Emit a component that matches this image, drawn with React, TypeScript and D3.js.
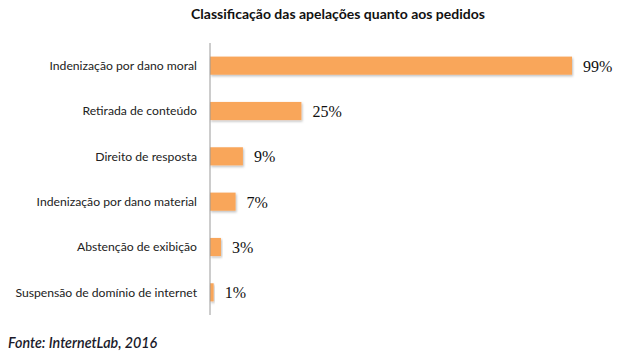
import React from "react";
import * as d3 from "d3";

const categories = [
  "Indenização por dano moral",
  "Retirada de conteúdo",
  "Direito de resposta",
  "Indenização por dano material",
  "Abstenção de exibição",
  "Suspensão de domínio de internet",
];
const values = [99, 25, 9, 7, 3, 1];
const valueLabels = ["99%", "25%", "9%", "7%", "3%", "1%"];
const title = "Classificação das apelações quanto aos pedidos";
const source = "Fonte: InternetLab, 2016";

export default function App() {
  const W = 620, H = 357;
  const x0 = 210;
  const x = d3.scaleLinear().domain([0, 99]).range([x0, 572]);
  const y = d3.scaleBand<string>().domain(categories).range([43, 315]).paddingInner(0.6).paddingOuter(0.3);
  const sans = "Lato, 'Open Sans', sans-serif";
  return (
    <div style={{ position: "absolute", left: 0, top: 0 }}>
      <svg width={W} height={H} style={{ display: "block", background: "#fff" }}>
        <defs>
          <filter id="sh" x="-5%" y="-20%" width="115%" height="160%">
            <feDropShadow dx="1" dy="1.5" stdDeviation="1" floodColor="#000" floodOpacity="0.25" />
          </filter>
        </defs>
        <text x={338} y={19} textAnchor="middle" fontFamily={sans} fontWeight="bold" fontSize={14} fill="#111">
          {title}
        </text>
        {categories.map((c, i) => {
          const yy = y(c)!;
          const bh = y.bandwidth();
          return (
            <g key={c}>
              <rect x={x0} y={yy} width={x(values[i]) - x0} height={bh} fill="#F9A65A" filter="url(#sh)" />
              <text x={197} y={yy + bh / 2} dy="0.35em" textAnchor="end" fontFamily={sans} fontSize={12.2} fill="#222">
                {c}
              </text>
              <text x={x(values[i]) + 11} y={yy + bh / 2} dy="0.38em" fontFamily="'Liberation Serif', serif" fontSize={16} fill="#111">
                {valueLabels[i]}
              </text>
            </g>
          );
        })}
        <line x1={x0} x2={x0} y1={43} y2={315} stroke="#9a9a9a" strokeWidth={1} />
        <text x={8} y={348} fontFamily={sans} fontStyle="italic" fontWeight="600" fontSize={14.3} fill="#1a1a2a">
          {source}
        </text>
      </svg>
    </div>
  );
}
